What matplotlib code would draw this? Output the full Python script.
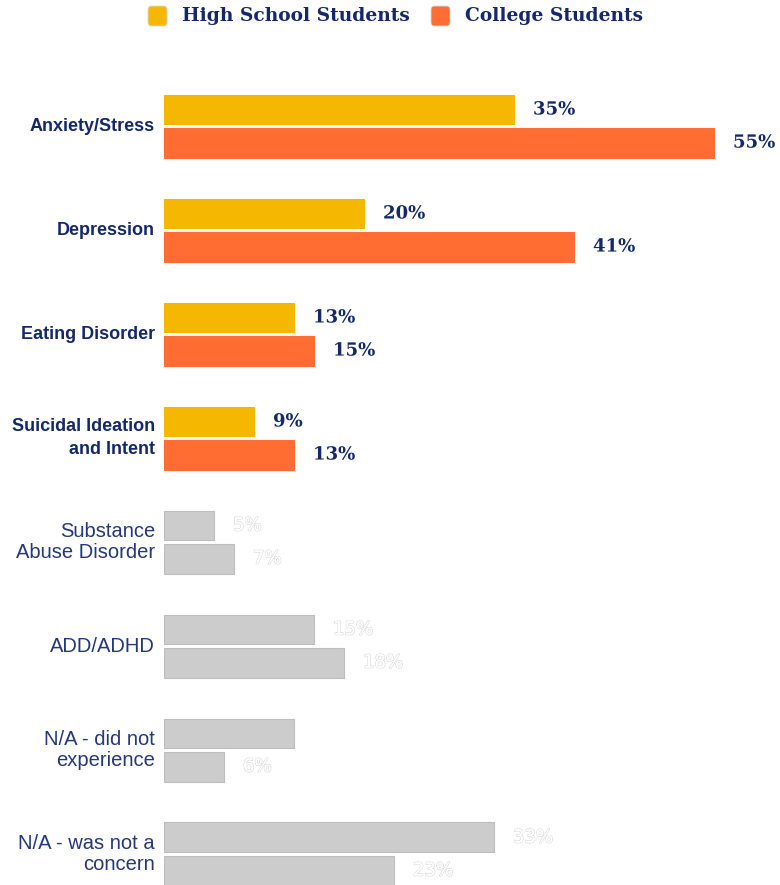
import numpy as np
import matplotlib.pyplot as plt
import matplotlib.patheffects as pe
from matplotlib.patches import FancyBboxPatch

categories = ['Anxiety/Stress', 'Depression', 'Eating Disorder',
              'Suicidal Ideation\nand Intent', 'Substance\nAbuse Disorder',
              'ADD/ADHD', 'N/A - did not\nexperience', 'N/A - was not a\nconcern']
high_school = [35, 20, 13, 9, 5, 15, 13, 33]
college = [55, 41, 15, 13, 7, 18, 6, 23]
highlighted = [True, True, True, True, False, False, False, False]
# labels the original leaves invisible (white on white)
hidden = {(6, 0)}

navy = '#14286b'
c_hs = '#f5b700'
c_col = '#ff6d33'
c_gray = '#cccccc'

fig = plt.figure(figsize=(7.8, 8.85), dpi=100)
# pixel layout: axes from x=164 to 780, y from 60 to 885
ax = fig.add_axes([164 / 780, 0, 616 / 780, 825 / 885])
ax.set_xlim(0, 61.6)
ax.set_ylim(7.298, -0.635)
ax.axis('off')

y = np.arange(len(categories))
h = 0.288
off = 0.159

for i, cat in enumerate(categories):
    on = highlighted[i]
    for k, (val, yy, col) in enumerate([(high_school[i], y[i] - off, c_hs),
                                        (college[i], y[i] + off, c_col)]):
        fc = col if on else c_gray
        ax.barh(yy, val, height=h, color=fc, edgecolor='#bdbdbd' if not on else fc,
                linewidth=0.8)
        if on:
            ax.text(val + 1.9, yy, f'{val}%', va='center', ha='left',
                    family='DejaVu Serif', weight='bold', fontsize=13, color=navy,
                    path_effects=[pe.withStroke(linewidth=3, foreground='white')])
        elif (i, k) in hidden:
            ax.text(val + 1.9, yy, f'{val}%', va='center', ha='left',
                    family='DejaVu Sans', fontsize=13, color='white')
        else:
            ax.text(val + 1.9, yy, f'{val}%', va='center', ha='left',
                    family='DejaVu Sans', fontsize=13, color='white',
                    path_effects=[pe.withStroke(linewidth=1.0, foreground='#d9d9d9'),
                                  pe.Normal()])
    if on:
        ax.text(-0.9, y[i], cat, ha='right', va='center', multialignment='right',
                family='Liberation Sans', fontsize=13, linespacing=1.43,
                weight='bold', color=navy)
    else:
        ax.text(-0.9, y[i], cat, ha='right', va='center', multialignment='right',
                family='Liberation Sans', fontsize=14.5, linespacing=1.12,
                color='#24387a')

# legend
for x0, col, lab in [(148, c_hs, 'High School Students'), (431, c_col, 'College Students')]:
    fig.patches.append(FancyBboxPatch(((x0) / 780, 1 - 26 / 885), 19 / 780, 20 / 885,
                                      boxstyle='round,pad=0,rounding_size=0.004',
                                      transform=fig.transFigure, facecolor=col,
                                      edgecolor='#dddddd', linewidth=0.6))
    fig.text((x0 + 34) / 780, 1 - 16 / 885, lab, ha='left', va='center',
             family='DejaVu Serif', weight='bold', fontsize=13.4, color=navy)

fig.savefig('out.png', dpi=100)
